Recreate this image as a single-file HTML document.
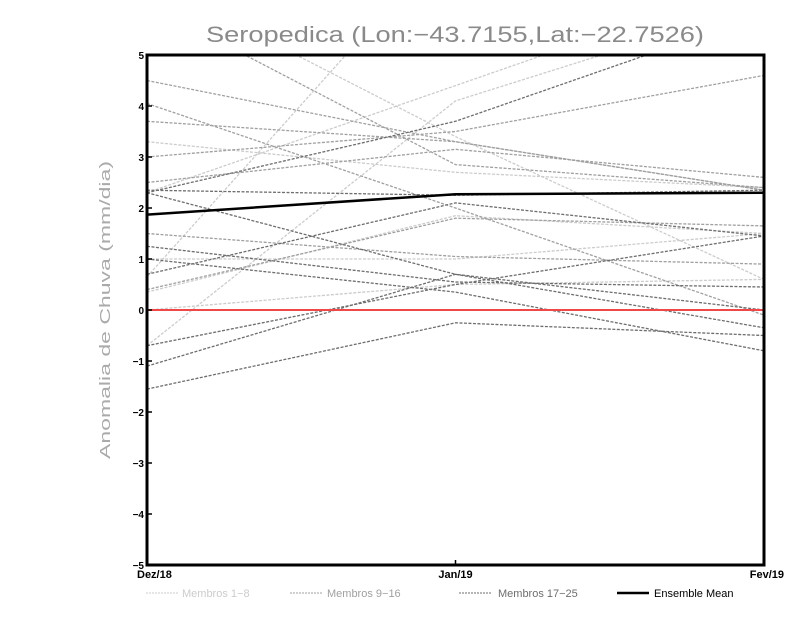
<!DOCTYPE html>
<html><head><meta charset="utf-8"><style>
html,body{margin:0;padding:0;background:#fff;}
svg{display:block;font-family:"Liberation Sans",sans-serif;}
</style></head><body>
<svg id="chart" width="800" height="618" viewBox="0 0 800 618">
<text x="455" y="42" text-anchor="middle" font-size="22" fill="#8a8a8a" textLength="498" lengthAdjust="spacingAndGlyphs">Seropedica (Lon:−43.7155,Lat:−22.7526)</text>
<text transform="translate(110,310) rotate(-90)" text-anchor="middle" font-size="15" fill="#aaa" textLength="298" lengthAdjust="spacingAndGlyphs">Anomalia de Chuva (mm/dia)</text>
<defs><clipPath id="plotclip"><rect x="147" y="55" width="617" height="510"/></clipPath></defs>
<g id="members" clip-path="url(#plotclip)"></g>
<g id="axes"></g>
<g id="legend"></g>
</svg>
<script>
const categories = ["Dez/18", "Jan/19", "Fev/19"];
const yTicks = [5,4,3,2,1,0,-1,-2,-3,-4,-5];
const membros1to8 = [
  [0.65, 7.4, 9.0],
  [-0.7, 4.1, 6.0],
  [3.3, 2.7, 2.4],
  [0.35, 1.85, 1.5],
  [0.0, 0.5, 0.6],
  [6.5, 3.4, 0.6],
  [2.3, 4.4, 6.5],
  [1.0, 1.0, 1.5]
];
const membros9to16 = [
  [4.5, 3.3, 2.35],
  [3.7, 3.3, 2.35],
  [6.0, 2.85, 2.4],
  [4.05, 2.0, -0.1],
  [1.5, 1.05, 0.9],
  [3.0, 3.5, 4.6],
  [0.4, 1.8, 1.65],
  [2.5, 3.15, 2.6]
];
const membros17to25 = [
  [2.3, 3.7, 5.8],
  [2.35, 2.25, 2.35],
  [2.3, 0.7, -0.35],
  [1.25, 0.55, 0.45],
  [0.7, 2.1, 1.45],
  [-0.7, 0.5, 1.45],
  [-1.1, 0.7, 0.0],
  [-1.55, -0.25, -0.5],
  [1.0, 0.35, -0.8]
];
const ensembleMean = [1.87, 2.27, 2.3];

const NS = "http://www.w3.org/2000/svg";
const X0 = 147, X1 = 764, Y0 = 55, Y1 = 565, YMAX = 5, YMIN = -5;
function xScale(i){ return X0 + (X1 - X0) * i / (categories.length - 1); }
function yScale(v){ return Y0 + (YMAX - v) / (YMAX - YMIN) * (Y1 - Y0); }
function mk(tag, attrs, parent){ const e = document.createElementNS(NS, tag); for (const k in attrs) e.setAttribute(k, attrs[k]); parent.appendChild(e); return e; }
function pts(arr){ return arr.map((v,i)=>xScale(i).toFixed(1)+","+yScale(v).toFixed(1)).join(" "); }

const gm = document.getElementById("members");
const groups = [[membros1to8, "#cccccc", "membro-light"], [membros9to16, "#a0a0a0", "membro-mid"], [membros17to25, "#6e6e6e", "membro-dark"]];
groups.forEach(([data, col, nm]) => {
  data.forEach((s, k) => {
    const p = mk("polyline", {points: pts(s), fill: "none", stroke: col, "stroke-width": 1.3, "stroke-dasharray": "3,1.5"}, gm);
    
    
  });
});
const zl = mk("line", {x1: X0, x2: X1, y1: yScale(0), y2: yScale(0), stroke: "#f04848", "stroke-width": 2}, gm);


const ml = mk("polyline", {points: pts(ensembleMean), fill: "none", stroke: "#000", "stroke-width": 2.5}, gm);



const ga = document.getElementById("axes");
const fr = mk("rect", {x: X0, y: Y0, width: X1 - X0, height: Y1 - Y0, fill: "none", stroke: "#000", "stroke-width": 3}, ga);


yTicks.forEach(v => {
  const y = yScale(v);
  const t = mk("line", {x1: X0, x2: X0 + 5, y1: y, y2: y, stroke: "#000", "stroke-width": 1.5}, ga);
  
  
  const l = mk("text", {x: X0 - 3, y: y + 4, "text-anchor": "end", "font-size": 10, "font-weight": "bold", fill: "#000"}, ga);
  l.textContent = String(v).replace("-", "−");
  
  
});
categories.forEach((c, i) => {
  const x = xScale(i);
  const t = mk("line", {x1: x, x2: x, y1: Y1, y2: Y1 - 5, stroke: "#000", "stroke-width": 1.5}, ga);
  
  
  const anchor = i === 0 ? "start" : (i === categories.length - 1 ? "end" : "middle");
  const l = mk("text", {x: i === 0 ? x - 10 : (i === categories.length - 1 ? x + 20 : x), y: Y1 + 13, "text-anchor": anchor, "font-size": 11, "font-weight": "bold", fill: "#000"}, ga);
  l.textContent = c;
  
  
});

const gl = document.getElementById("legend");
const legendItems = [["Membros 1−8", "#cccccc", 146, 182, false], ["Membros 9−16", "#a0a0a0", 290, 327, false], ["Membros 17−25", "#6e6e6e", 459, 498, false], ["Ensemble Mean", "#000", 617, 654, true]];
legendItems.forEach(([txt, col, x, tx, solid]) => {
  const ln = mk("line", {x1: x, x2: x + 32, y1: 593, y2: 593, stroke: col, "stroke-width": solid ? 2.5 : 1, "stroke-dasharray": solid ? "none" : "2,1"}, gl);
  
  
  const t = mk("text", {x: tx, y: 597, "font-size": 11, fill: solid ? "#000" : col}, gl);
  t.textContent = txt;
  
  
});
</script>
</body></html>
